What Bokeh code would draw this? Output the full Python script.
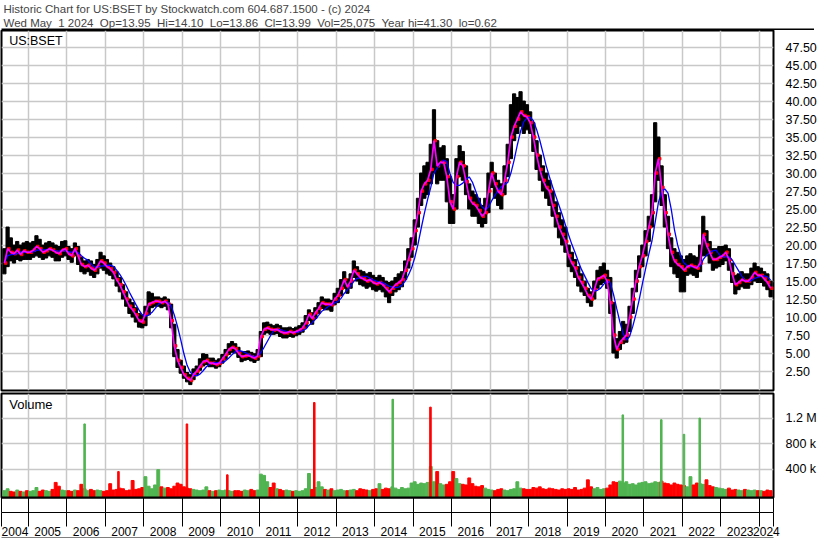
import numpy as np
import pandas as pd
from bokeh.plotting import figure
from bokeh.layouts import column
from bokeh.models import (Range1d, FixedTicker, LinearAxis, Grid, Title, Label,
                          ColumnDataSource, PrintfTickFormatter, CustomJSTickFormatter)
from bokeh.embed import file_html
from bokeh.resources import INLINE

FONT = "Liberation Sans"
NB = "\u00a0"

TITLE_1 = "Historic Chart for US:BSET by Stockwatch.com 604.687.1500 - (c) 2024"
TITLE_2 = ("Wed May " + NB + "1 2024 " + NB + "Op=13.95 " + NB + "Hi=14.10 " + NB + "Lo=13.86 " + NB +
           "Cl=13.99 " + NB + "Vol=25,075 " + NB + "Year hi=41.30 " + NB + "lo=0.62")
SYMBOL = "US:BSET"

# ---- monthly data, May 2004 .. Apr 2024 ----
MONTHS = pd.date_range("2004-05-01", "2024-04-01", freq="MS")

CLOSE = [
    17.5, 19.5, 19.0, 18.8, 19.3, 18.7, 19.2, 19.0,                      # 2004
    19.0, 19.3, 19.8, 19.5, 19.0, 19.2, 19.5, 19.3, 19.0, 18.8, 19.3, 19.5,  # 2005
    18.8, 18.5, 19.5, 18.5, 17.3, 17.0, 17.2, 16.8, 16.5, 17.0, 17.8, 17.5,  # 2006
    17.0, 16.7, 16.2, 15.2, 14.5, 13.5, 12.5, 11.5, 11.0, 10.3, 9.5, 9.3,    # 2007
    10.5, 11.8, 12.0, 12.2, 12.2, 12.0, 12.2, 11.8, 9.5, 6.0, 4.0, 3.0,      # 2008
    2.0, 1.5, 1.2, 2.0, 2.5, 3.2, 3.8, 4.0, 3.6, 3.6, 3.4, 3.6,              # 2009
    4.2, 4.8, 5.5, 5.8, 5.6, 5.0, 4.5, 4.6, 4.7, 4.5, 4.3, 4.6,              # 2010
    7.3, 8.3, 8.5, 8.3, 8.2, 8.3, 8.0, 7.8, 7.8, 8.0, 7.8, 8.0,              # 2011
    8.2, 8.5, 9.2, 10.4, 9.8, 10.6, 11.2, 12.0, 11.8, 11.8, 11.7, 12.5,      # 2012
    13.0, 14.0, 15.2, 14.2, 15.0, 16.5, 16.0, 15.5, 15.3, 15.0, 15.2, 14.8,  # 2013
    14.6, 14.8, 14.5, 14.0, 13.5, 14.0, 14.5, 14.8, 15.2, 16.5, 18.0, 19.5,  # 2014
    22.0, 24.5, 27.5, 28.5, 29.0, 30.5, 34.5, 31.0, 31.5, 31.5, 29.5, 26.0,  # 2015
    25.0, 29.5, 31.5, 31.0, 28.8, 26.5, 25.8, 25.5, 24.8, 24.0, 24.5, 27.5,  # 2016
    30.0, 28.5, 27.5, 27.0, 29.0, 31.5, 35.0, 36.5, 37.5, 38.5, 38.0, 37.8,  # 2017
    37.0, 35.0, 32.5, 30.5, 29.0, 28.0, 27.5, 25.5, 24.0, 22.5, 21.5, 20.5,  # 2018
    18.5, 17.5, 16.8, 15.5, 14.8, 14.0, 13.0, 12.5, 13.8, 15.3, 15.5, 15.8,  # 2019
    15.0, 12.0, 7.5, 5.5, 6.5, 7.0, 7.5, 10.0, 12.5, 15.0, 17.0, 18.5,       # 2020
    20.5, 22.5, 24.5, 30.0, 32.0, 28.0, 24.5, 21.5, 19.0, 17.8, 17.3, 17.0,  # 2021
    16.5, 17.0, 17.2, 17.0, 16.8, 17.5, 21.5, 20.0, 19.0, 18.0, 18.0, 18.3,  # 2022
    18.5, 19.0, 18.0, 16.0, 14.5, 14.8, 15.2, 15.0, 15.0, 15.5, 16.2, 15.8,  # 2023
    15.8, 15.3, 14.8, 14.0,                                                # 2024
]

HIGH = [
    19.5, 22.5, 21.0, 20.0, 20.5, 20.0, 20.3, 20.5,
    20.3, 20.5, 21.3, 20.8, 20.0, 20.3, 20.5, 20.3, 20.0, 19.8, 20.5, 20.6,
    19.8, 19.5, 20.3, 19.8, 18.3, 17.8, 18.0, 17.8, 17.3, 18.0, 19.0, 18.5,
    18.0, 17.5, 17.0, 16.3, 15.5, 14.5, 13.5, 12.5, 12.0, 11.3, 10.5, 10.3,
    11.5, 13.5, 13.3, 12.8, 12.8, 12.6, 12.8, 12.5, 11.8, 9.0, 5.5, 4.0,
    3.2, 2.3, 2.0, 2.8, 3.2, 4.2, 4.9, 4.8, 4.3, 4.3, 4.0, 4.2,
    4.8, 5.5, 6.3, 6.6, 6.3, 5.8, 5.2, 5.2, 5.3, 5.1, 4.9, 5.5,
    8.0, 9.2, 9.3, 9.0, 8.8, 9.0, 8.8, 8.5, 8.5, 8.6, 8.4, 8.6,
    8.8, 9.2, 10.2, 11.0, 10.6, 11.3, 12.0, 12.8, 12.5, 12.5, 12.3, 13.3,
    14.0, 15.2, 16.3, 15.3, 16.0, 17.8, 17.0, 16.5, 16.3, 16.0, 16.2, 15.8,
    15.5, 15.8, 15.5, 15.0, 14.8, 15.0, 15.5, 16.0, 16.3, 17.8, 19.5, 21.0,
    23.5, 26.5, 30.0, 31.0, 31.5, 34.0, 38.8, 34.5, 33.5, 33.8, 32.0, 29.5,
    27.0, 32.0, 33.8, 33.0, 31.0, 28.5, 27.5, 27.0, 26.5, 25.5, 26.5, 30.0,
    31.5, 30.0, 29.0, 28.5, 31.0, 34.0, 39.5, 41.0, 40.5, 41.3, 40.0, 39.5,
    38.5, 37.0, 34.5, 32.5, 31.0, 30.0, 29.0, 27.5, 26.0, 24.5, 23.5, 22.5,
    20.0, 19.0, 18.0, 17.0, 16.0, 15.0, 14.0, 13.5, 15.0, 16.5, 17.0, 17.5,
    16.5, 15.5, 12.0, 7.0, 8.0, 9.4, 9.0, 11.5, 14.0, 16.5, 18.5, 20.0,
    22.0, 24.0, 27.0, 37.0, 35.0, 31.0, 27.0, 24.0, 21.0, 19.5, 19.0, 18.5,
    18.0, 18.5, 18.8, 18.5, 18.3, 20.0, 24.0, 22.0, 20.5, 19.5, 19.5, 19.8,
    19.8, 20.0, 19.5, 17.5, 15.8, 16.0, 16.3, 16.0, 16.0, 16.8, 17.5, 17.0,
    16.8, 16.3, 16.0, 15.0,
]

LOW = [
    16.0, 17.0, 17.8, 17.5, 18.0, 17.8, 18.0, 18.0,
    18.0, 18.3, 18.5, 18.3, 18.0, 18.2, 18.5, 18.3, 17.8, 17.8, 18.3, 18.5,
    18.0, 17.6, 18.5, 17.3, 16.3, 16.0, 16.3, 15.8, 15.5, 16.0, 16.8, 16.5,
    16.0, 15.8, 15.3, 14.3, 13.5, 12.5, 11.5, 10.5, 10.0, 9.3, 8.6, 8.5,
    8.8, 10.3, 11.3, 11.5, 11.5, 11.3, 11.5, 11.0, 8.5, 4.5, 3.0, 2.2,
    1.5, 1.0, 0.62, 1.3, 2.0, 2.6, 3.2, 3.4, 3.1, 3.1, 2.9, 3.1,
    3.6, 4.1, 4.8, 5.1, 5.0, 4.4, 3.8, 4.0, 4.1, 3.9, 3.7, 4.0,
    4.5, 7.6, 7.8, 7.6, 7.6, 7.7, 7.3, 7.1, 7.1, 7.3, 7.2, 7.4,
    7.6, 7.9, 8.5, 9.5, 9.0, 9.8, 10.5, 11.2, 11.0, 11.0, 10.8, 11.7,
    12.0, 13.0, 14.0, 13.3, 14.0, 15.5, 15.0, 14.5, 14.3, 14.0, 14.2, 13.8,
    13.6, 13.8, 13.5, 12.8, 12.0, 13.0, 13.5, 13.8, 14.2, 15.2, 16.8, 18.3,
    20.0, 22.5, 25.5, 26.5, 27.0, 28.5, 30.0, 28.5, 29.0, 29.0, 26.0, 23.0,
    23.0, 25.0, 29.5, 29.0, 27.0, 25.0, 24.0, 24.0, 23.0, 22.5, 23.0, 24.5,
    28.0, 26.5, 25.5, 25.0, 27.0, 29.5, 32.0, 34.5, 35.5, 36.5, 35.5, 36.0,
    35.5, 33.0, 30.5, 29.0, 27.5, 26.5, 25.5, 24.0, 22.5, 21.0, 20.0, 19.0,
    17.0, 16.3, 15.5, 14.3, 13.5, 13.0, 12.0, 11.5, 12.5, 14.0, 14.5, 14.8,
    14.0, 10.5, 5.0, 4.3, 5.5, 6.3, 6.5, 8.0, 10.5, 13.5, 15.5, 17.0,
    18.5, 20.5, 22.5, 26.0, 29.0, 25.5, 22.5, 19.5, 17.0, 16.0, 15.5, 13.5,
    13.5, 15.8, 16.0, 15.8, 15.5, 16.3, 18.5, 18.5, 17.5, 16.5, 16.8, 17.0,
    17.3, 17.8, 16.5, 14.8, 13.2, 13.8, 14.2, 14.0, 14.0, 14.5, 15.0, 14.8,
    14.8, 14.3, 13.8, 12.8,
]

# monthly volume envelope, thousands of shares
VOLUME_K = [
    60, 90, 50, 40, 70, 50, 40, 60,
    50, 60, 110, 50, 70, 60, 50, 80, 190, 130, 70, 60,
    60, 50, 70, 60, 160, 90, 60, 80, 60, 70, 60, 50,
    60, 170, 70, 80, 100, 90, 60, 70, 220, 80, 90, 110,
    280, 130, 90, 150, 390, 120, 100, 110, 90, 130, 180, 160,
    120, 100, 90, 80, 70, 60, 70, 120, 60, 50, 60, 70,
    60, 70, 60, 50, 60, 60, 50, 70, 60, 80, 60, 70,
    320, 300, 200, 110, 180, 90, 80, 60, 70, 60, 50, 60,
    50, 60, 90, 330, 80, 110, 200, 120, 80, 70, 90, 60,
    70, 80, 60, 60, 70, 80, 60, 90, 80, 70, 60, 80,
    90, 170, 80, 100, 90, 120, 100, 80, 110, 90, 100, 180,
    200, 160, 180, 170, 190, 440, 200, 360, 170, 150, 160, 200,
    360, 250, 170, 160, 150, 260, 170, 130, 120, 140, 100, 80,
    70, 60, 80, 90, 70, 60, 80, 90, 200, 100, 90, 80,
    80, 110, 100, 120, 90, 80, 100, 90, 80, 70, 90, 80,
    90, 80, 110, 70, 80, 100, 230, 120, 90, 110, 80, 90,
    100, 150, 200, 190, 210, 180, 200, 160, 170, 150, 180, 190,
    200, 170, 180, 200, 190, 210, 180, 170, 150, 180, 160, 150,
    140, 120, 280, 150, 180, 170, 160, 230, 140, 120, 110, 100,
    90, 80, 100, 70, 80, 70, 60, 80, 70, 60, 70, 60,
    60, 50, 70, 60,
]

# single-day volume spikes (decimal year, shares, direction)
SPIKE_DATE = [2006.46, 2007.34, 2009.12, 2010.17, 2012.43, 2014.47, 2015.45,
              2020.45, 2021.45, 2022.04, 2022.45]
SPIKE_VOL = [1108000, 360000, 1108000, 309000, 1444000, 1495000, 1372000,
             1250000, 1174000, 945000, 1200000]
SPIKE_UP = [True, False, False, False, False, True, False, True, True, True, True]

YEARS = list(range(2004, 2025))
PRICE_TICKS = [2.5 * k for k in range(1, 20)]
VOL_TICKS = [400000, 800000, 1200000]

# ---- layout constants ----
W = 814
LB = 1
FW = 772
RB = W - FW - LB
X0, X1 = 2004.30, 2024.367
GRID = "#c8c8c8"
RED = "#ff0000"
GREEN = "#50b450"

t = np.array([d.year + (d.month - 0.5) / 12.0 for d in MONTHS])
close = np.array(CLOSE)
ma_long = pd.Series(close).rolling(5, min_periods=1).mean().to_numpy()  # long moving average
up = np.concatenate([[True], close[1:] >= close[:-1]])

year_starts = YEARS[1:]
cell_edges = [X0 + 0.01] + year_starts + [X1 - 0.01]
label_pos = [(max(y, X0) + min(y + 1, X1)) / 2 for y in YEARS]

# ---- header ----
hdr = figure(frame_width=W, frame_height=2, x_range=Range1d(0, 1), y_range=Range1d(0, 1),
             x_axis_type=None, y_axis_type=None, output_backend="svg", toolbar_location=None,
             min_border=0, background_fill_color="black", outline_line_color=None)
hdr.add_layout(Title(text=TITLE_2, align="left", text_font=FONT, text_font_size="11.5px",
                     text_font_style="normal", standoff=0, offset=2), "above")
hdr.add_layout(Title(text=TITLE_1, align="left", text_font=FONT, text_font_size="11.5px",
                     text_font_style="normal", standoff=0, offset=2), "above")

# ---- price panel ----
pp = figure(frame_width=FW, frame_height=360, x_range=Range1d(X0, X1), y_range=Range1d(-0.2, 49.8),
            x_axis_type=None, y_axis_type=None, output_backend="svg", toolbar_location=None,
            min_border_left=LB, min_border_right=RB, min_border_top=0, min_border_bottom=2,
            outline_line_color="black", outline_line_width=2)
pp.add_layout(Grid(dimension=0, ticker=FixedTicker(ticks=year_starts), grid_line_color=GRID, grid_line_width=1.5))
pp.add_layout(Grid(dimension=1, ticker=FixedTicker(ticks=PRICE_TICKS), grid_line_color=GRID, grid_line_width=1.5))
pax = LinearAxis(ticker=FixedTicker(ticks=PRICE_TICKS), formatter=PrintfTickFormatter(format="%.2f"),
                 axis_line_color=None, major_tick_line_color=None, minor_tick_line_color=None,
                 major_label_text_font=FONT, major_label_text_font_size="12.5px",
                 major_label_text_color="black", major_label_standoff=6)
pp.add_layout(pax, "right")

src = ColumnDataSource(dict(t=t, tr=t + 1 / 30, high=HIGH, low=LOW, close=close, ma=ma_long))
pp.vbar(x="t", top="high", bottom="low", width=1 / 12, color="black", source=src)
pp.scatter(x="tr", y="close", marker="square", size=2.5, color=RED, source=src)
pp.line(x="t", y="ma", color="#0000ff", line_width=1.3, source=src)
pp.line(x="t", y="close", color="#ff00ff", line_width=1.7, source=src)
pp.add_layout(Label(x=X0 + 0.2, y=49.3, text=SYMBOL, text_font=FONT, text_font_size="12.5px",
                    text_baseline="top", text_color="black"))

# ---- volume panel ----
VMIN, VMAX = -47000, 1586000
pv = figure(frame_width=FW, frame_height=104, x_range=pp.x_range, y_range=Range1d(VMIN, VMAX),
            x_axis_type=None, y_axis_type=None, output_backend="svg", toolbar_location=None,
            min_border_left=LB, min_border_right=RB, min_border_top=1, min_border_bottom=0,
            outline_line_color="black", outline_line_width=2)
pv.add_layout(Grid(dimension=0, ticker=FixedTicker(ticks=year_starts), grid_line_color=GRID, grid_line_width=1.5))
pv.add_layout(Grid(dimension=1, ticker=FixedTicker(ticks=VOL_TICKS), grid_line_color=GRID, grid_line_width=1.5))
vax = LinearAxis(ticker=FixedTicker(ticks=VOL_TICKS),
                 formatter=CustomJSTickFormatter(code="return tick >= 1e6 ? (tick/1e6).toFixed(1) + ' M' : (tick/1e3).toFixed(0) + ' k'"),
                 axis_line_color=None, major_tick_line_color=None, minor_tick_line_color=None,
                 major_label_text_font=FONT, major_label_text_font_size="12.5px",
                 major_label_text_color="black", major_label_standoff=6)
pv.add_layout(vax, "right")

vsrc = ColumnDataSource(dict(t=t, v=np.array(VOLUME_K) * 1000.0,
                             c=[GREEN if u else RED for u in up]))
pv.vbar(x="t", top="v", bottom=VMIN, width=0.9 / 12, color="c", source=vsrc)
ssrc = ColumnDataSource(dict(t=SPIKE_DATE, v=SPIKE_VOL, c=[GREEN if u else RED for u in SPIKE_UP]))
pv.vbar(x="t", top="v", bottom=VMIN, width=0.04, color="c", source=ssrc)
pv.add_layout(Label(x=X0 + 0.2, y=VMAX - 50000, text="Volume", text_font=FONT, text_font_size="13px",
                    text_baseline="top", text_color="black"))

# year strip: upper row of empty cells, lower row with year labels
ax_a = LinearAxis(ticker=FixedTicker(ticks=[], minor_ticks=cell_edges), axis_line_color="black",
                  axis_line_width=2, major_tick_out=15, major_tick_in=0, major_tick_line_color=None,
                  minor_tick_out=15, minor_tick_in=0, minor_tick_line_color="black",
                  major_label_standoff=0)
ax_b = LinearAxis(ticker=FixedTicker(ticks=label_pos, minor_ticks=cell_edges),
                  formatter=CustomJSTickFormatter(code="return Math.floor(tick).toString()"),
                  axis_line_color="black", major_tick_line_color=None, major_tick_out=0, major_tick_in=0,
                  minor_tick_out=14, minor_tick_in=0, minor_tick_line_color="black",
                  major_label_text_font=FONT, major_label_text_font_size="12px",
                  major_label_text_color="black", major_label_standoff=0)
ax_c = LinearAxis(ticker=FixedTicker(ticks=[]), axis_line_color="black", axis_line_width=2,
                  major_tick_line_color=None, minor_tick_line_color=None, major_tick_out=1,
                  major_label_standoff=0)
pv.add_layout(ax_a, "below")
pv.add_layout(ax_b, "below")
pv.add_layout(ax_c, "below")

layout = column(hdr, pp, pv, spacing=0)
open("out.html", "w").write(file_html(layout, INLINE))
